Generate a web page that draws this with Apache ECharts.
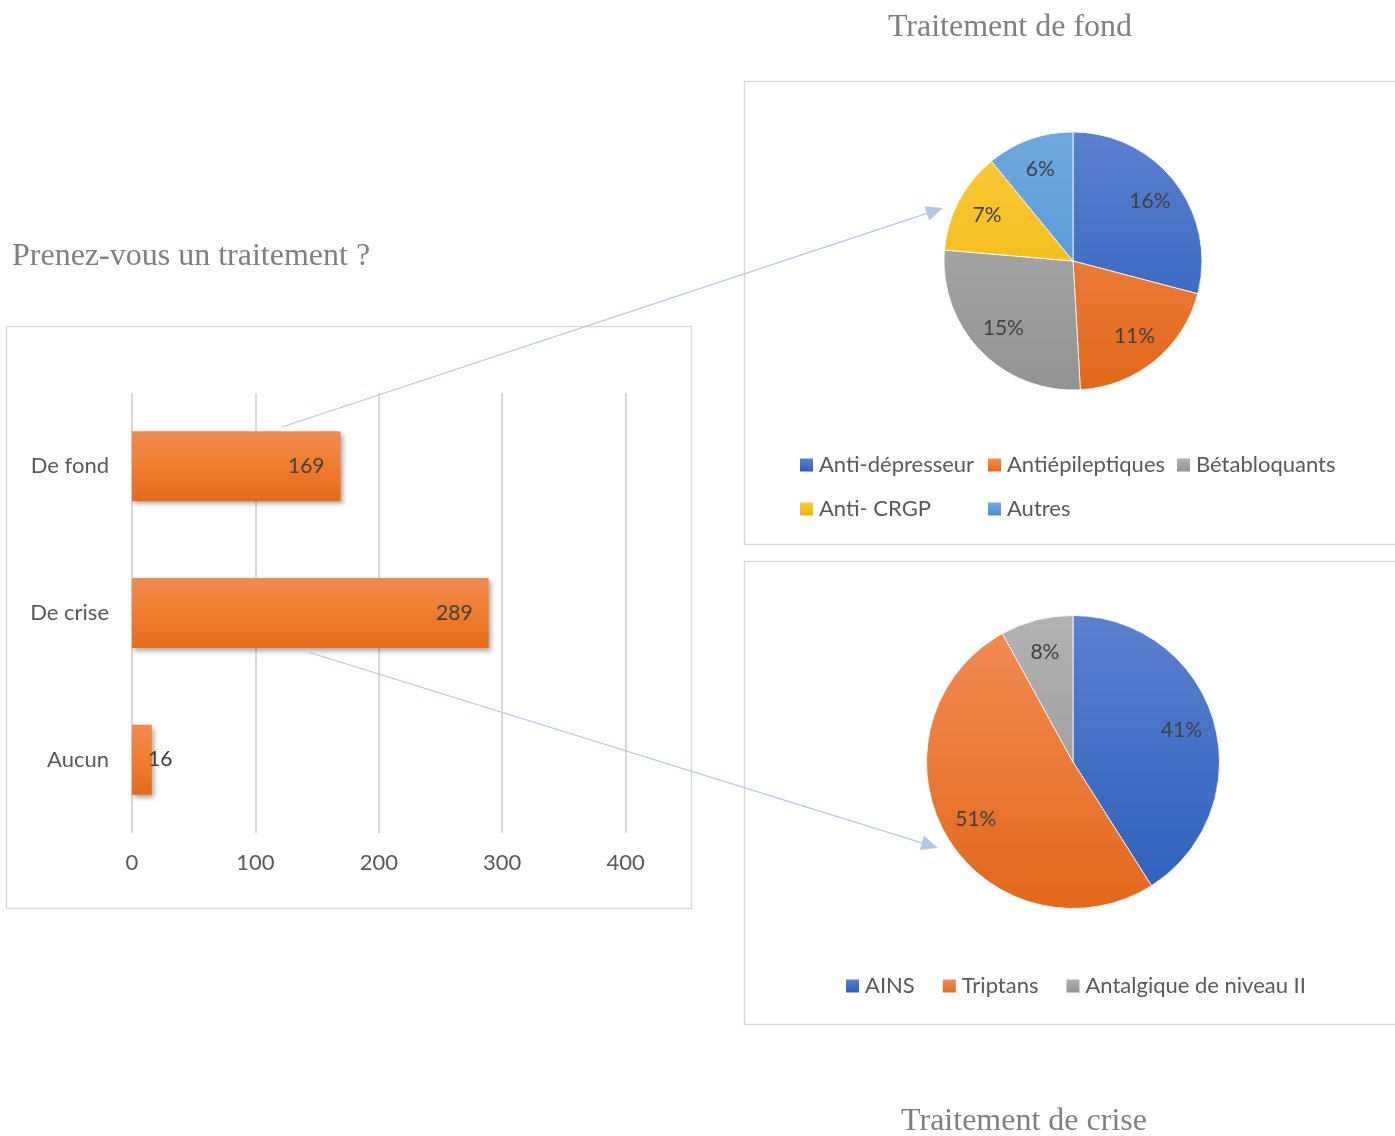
<!DOCTYPE html>
<html>
<head>
<meta charset="utf-8">
<script src="https://cdn.jsdelivr.net/npm/echarts@6/dist/echarts.min.js"></script>
<style>
html,body{margin:0;padding:0;background:#fff;}
#main{width:1395px;height:1136px;}
</style>
</head>
<body>
<div id="main"></div>
<script>
// ---- data ----
const barCategories = ['De fond', 'De crise', 'Aucun'];
const barValues = [169, 289, 16];
const xAxisMin = 0, xAxisMax = 400, xAxisInterval = 100;

const fondNames = ['Anti-dépresseur', 'Antiépileptiques', 'Bétabloquants', 'Anti- CRGP', 'Autres'];
const fondValues = [16, 11, 15, 7, 6];

const criseNames = ['AINS', 'Triptans', 'Antalgique de niveau II'];
const criseValues = [41, 51, 8];

// ---- styles ----
const FONT = 'Lato';
const SERIF = 'Liberation Serif';
const TXT = '#595959';
const palFond = [['#5b80cf', '#2c5fbb'], ['#f28c55', '#e3681a'], ['#b2b2b2', '#929292'], ['#ffc93c', '#e9b700'], ['#70a8de', '#4790d3']];
const palCrise = [['#5b80cf', '#2c5fbb'], ['#f28c55', '#e3681a'], ['#b2b2b2', '#929292']];

const P1 = {cx: 1073, cy: 261, r: 129};
const P2 = {cx: 1073, cy: 762, r: 146.5};

function vgrad(cy, r, c0, c1) {
  return {type: 'linear', x: 0, y: cy - r, x2: 0, y2: cy + r, global: true,
    colorStops: [{offset: 0, color: c0}, {offset: 1, color: c1}]};
}
function lgrad(c0, c1) {
  return {type: 'linear', x: 0, y: 0, x2: 0, y2: 1,
    colorStops: [{offset: 0, color: c0}, {offset: 1, color: c1}]};
}

function pieData(names, values, pal, P) {
  return names.map((n, i) => ({name: n, value: values[i],
    itemStyle: {color: vgrad(P.cy, P.r, pal[i][0], pal[i][1])}}));
}
function labelData(names, values) {
  return names.map((n, i) => ({name: n, value: values[i]}));
}

function arrow(x1, y1, x2, y2) {
  const L = 17, W = 7.5;
  const dx = x2 - x1, dy = y2 - y1, d = Math.hypot(dx, dy);
  const ux = dx / d, uy = dy / d;
  const bx = x2 - ux * L, by = y2 - uy * L;
  const col = '#b4c7e7';
  return [
    {type: 'line', z: 100, shape: {x1: x1, y1: y1, x2: bx, y2: by}, style: {stroke: col, lineWidth: 1.3}},
    {type: 'polygon', z: 100, shape: {points: [[x2, y2], [bx - uy * W, by + ux * W], [bx + uy * W, by - ux * W]]},
      style: {fill: col}}
  ];
}

const legendPos1 = [[800, 454], [988, 454], [1177, 454], [800, 498], [988, 498]];
const legendCommon = {
  icon: 'rect', itemWidth: 13, itemHeight: 13, itemGap: 28, selectedMode: false, padding: 0,
  itemStyle: {borderWidth: 0},
  textStyle: {fontFamily: FONT, fontSize: 22, color: TXT, lineHeight: 22, padding: [0, 0, 0, 1]}
};
const legends = fondNames.map((n, i) => Object.assign({}, legendCommon,
  {data: [{name: n, itemStyle: {color: lgrad(palFond[i][0], palFond[i][1])}}],
   left: legendPos1[i][0], top: legendPos1[i][1]}));
legends.push(Object.assign({}, legendCommon, {
  data: criseNames.map((n, i) => ({name: n, itemStyle: {color: lgrad(palCrise[i][0], palCrise[i][1])}})),
  left: 846, top: 975}));

const chart = echarts.init(document.getElementById('main'), null, {renderer: 'canvas'});

const titleStyle = {fontFamily: SERIF, fontSize: 32, fontWeight: 'normal', color: '#7f7f7f'};

const option = {
  backgroundColor: '#ffffff',
  animation: false,
  title: [
    {text: 'Prenez-vous un traitement ?', left: 12, top: 241, padding: 0, textStyle: titleStyle},
    {text: 'Traitement de fond', left: 1010, top: 12, textAlign: 'center', padding: 0, textStyle: titleStyle},
    {text: 'Traitement de crise', left: 1024, top: 1106, textAlign: 'center', padding: 0, textStyle: titleStyle}
  ],
  legend: legends,
  grid: {left: 132, top: 393, width: 493.6, height: 440, containLabel: false},
  xAxis: {
    type: 'value', min: xAxisMin, max: xAxisMax, interval: xAxisInterval,
    axisLine: {show: false}, axisTick: {show: false},
    axisLabel: {fontFamily: FONT, fontSize: 22, color: TXT, margin: 19},
    splitLine: {lineStyle: {color: '#d9d9d9', width: 2}}
  },
  yAxis: {
    type: 'category', data: barCategories, inverse: true,
    axisLine: {show: false}, axisTick: {show: false},
    axisLabel: {fontFamily: FONT, fontSize: 22, color: TXT, margin: 23}
  },
  series: [
    {
      type: 'bar', data: barValues.map((v, i) => i === 2 ?
        {value: v, label: {position: 'insideLeft', distance: 16}} : v),
      barWidth: 70,
      itemStyle: {
        color: {type: 'linear', x: 0, y: 0, x2: 0, y2: 1, colorStops: [
          {offset: 0, color: '#f08b53'}, {offset: 0.5, color: '#f07d2d'}, {offset: 1, color: '#e46b1c'}]},
        shadowColor: 'rgba(0,0,0,0.35)', shadowBlur: 5, shadowOffsetX: 2, shadowOffsetY: 3
      },
      label: {show: true, position: 'insideRight', distance: 16, fontFamily: FONT, fontSize: 21, color: '#404040'}
    },
    {
      type: 'pie', center: [P1.cx, P1.cy], radius: [0, P1.r], startAngle: 90, clockwise: true,
      data: pieData(fondNames, fondValues, palFond, P1),
      itemStyle: {borderColor: '#ffffff', borderWidth: 0.8},
      label: {show: false}, labelLine: {show: false}, emphasis: {disabled: true}
    },
    {
      type: 'pie', center: [P1.cx, P1.cy], radius: [P1.r * 0.46, P1.r], startAngle: 90, clockwise: true,
      data: labelData(fondNames, fondValues), silent: true,
      itemStyle: {color: 'rgba(0,0,0,0)'},
      label: {show: true, position: 'inside', formatter: '{c}%', fontFamily: FONT, fontSize: 21, color: '#404040'},
      labelLine: {show: false}, emphasis: {disabled: true}
    },
    {
      type: 'pie', center: [P2.cx, P2.cy], radius: [0, P2.r], startAngle: 90, clockwise: true,
      data: pieData(criseNames, criseValues, palCrise, P2),
      itemStyle: {borderColor: '#ffffff', borderWidth: 0.8},
      label: {show: false}, labelLine: {show: false}, emphasis: {disabled: true}
    },
    {
      type: 'pie', center: [P2.cx, P2.cy], radius: [P2.r * 0.5, P2.r], startAngle: 90, clockwise: true,
      data: labelData(criseNames, criseValues), silent: true,
      itemStyle: {color: 'rgba(0,0,0,0)'},
      label: {show: true, position: 'inside', formatter: '{c}%', fontFamily: FONT, fontSize: 21, color: '#404040'},
      labelLine: {show: false}, emphasis: {disabled: true}
    }
  ],
  graphic: [
    {type: 'rect', z: -10, shape: {x: 6.5, y: 326.5, width: 685, height: 582}, style: {fill: 'none', stroke: '#d9d9d9', lineWidth: 1.5}},
    {type: 'rect', z: -10, shape: {x: 744.5, y: 81.5, width: 700, height: 463}, style: {fill: 'none', stroke: '#d9d9d9', lineWidth: 1.5}},
    {type: 'rect', z: -10, shape: {x: 744.5, y: 561.5, width: 700, height: 463}, style: {fill: 'none', stroke: '#d9d9d9', lineWidth: 1.5}}
  ].concat(arrow(282, 427, 943, 208)).concat(arrow(308, 652, 938, 848))
};

chart.setOption(option);
</script>
</body>
</html>
